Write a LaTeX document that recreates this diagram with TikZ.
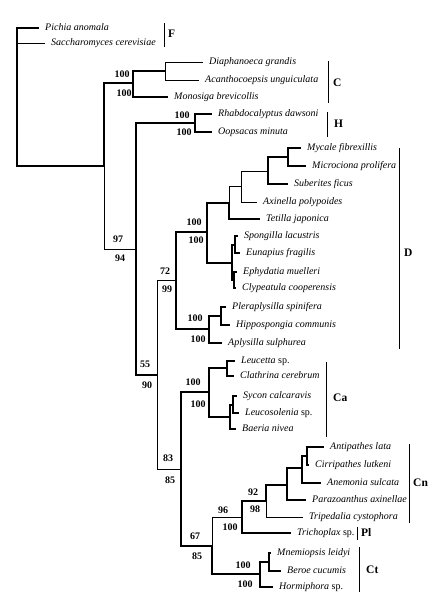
\documentclass[tikz,border=0pt]{standalone}
\usepackage{fontspec}
\setmainfont{Liberation Serif}
\begin{document}
\begin{tikzpicture}[x=1pt,y=-1pt,
  thk/.style={line width=1.8pt},
  thn/.style={line width=0.8pt},
  leaf/.style={anchor=west,inner xsep=6pt,inner ysep=0pt,font=\fontsize{10}{12}\selectfont\itshape,text height=6.5pt,text depth=2pt},
  bs/.style={font=\fontsize{10}{12}\selectfont\bfseries,inner sep=0pt},
  clade/.style={anchor=west,font=\fontsize{11.5}{13}\selectfont\bfseries,inner sep=0pt},
  bar/.style={line width=0.8pt}]
\useasboundingbox (0,0) rectangle (439,608);
% internal nodes
\coordinate (root) at (17,97);
\coordinate (n104) at (104,166);
\coordinate (n133) at (133,83);
\coordinate (n165) at (165,71);
\coordinate (n136) at (136,249);
\coordinate (n195) at (195,123);
\coordinate (n157) at (157,375);
\coordinate (n176) at (176,280);
\coordinate (n207) at (207,232);
\coordinate (n229) at (229,203);
\coordinate (n241) at (241,186);
\coordinate (n268) at (268,171);
\coordinate (n288) at (288,157);
\coordinate (n233) at (232,263);
\coordinate (n235a) at (235,245);
\coordinate (n235b) at (234,280);
\coordinate (n209d) at (209,329);
\coordinate (n221) at (221,316);
\coordinate (n181) at (181,469);
\coordinate (n209c) at (209,392);
\coordinate (n227) at (227,368);
\coordinate (n230) at (230,417);
\coordinate (n233c) at (233,405);
\coordinate (n212) at (212,546);
\coordinate (n242) at (242,517);
\coordinate (n266) at (266,501);
\coordinate (n287) at (287,485);
\coordinate (n302) at (302,468);
\coordinate (n307) at (307,456);
\coordinate (n260) at (260,574);
\coordinate (n269) at (269,562);
% leaves
\node[leaf] (pichia) at (39,28) {Pichia anomala};
\node[leaf] (sacch) at (45,43) {Saccharomyces cerevisiae};
\node[leaf] (diaph) at (203,62) {Diaphanoeca grandis};
\node[leaf] (acanth) at (199,80) {Acanthocoepsis unguiculata};
\node[leaf] (monos) at (168,97) {Monosiga brevicollis};
\node[leaf] (rhabdo) at (212,114) {Rhabdocalyptus dawsoni};
\node[leaf] (oops) at (212,132) {Oopsacas minuta};
\node[leaf] (mycale) at (301,148) {Mycale fibrexillis};
\node[leaf] (microc) at (306,166) {Microciona prolifera};
\node[leaf] (suber) at (288,184) {Suberites ficus};
\node[leaf] (axin) at (257,202) {Axinella polypoides};
\node[leaf] (tetil) at (260,219) {Tetilla japonica};
\node[leaf] (spong) at (238,236) {Spongilla lacustris};
\node[leaf] (eunap) at (240,253) {Eunapius fragilis};
\node[leaf] (ephyd) at (237,272) {Ephydatia muelleri};
\node[leaf] (clype) at (236,288) {Clypeatula cooperensis};
\node[leaf] (plera) at (226,307) {Pleraplysilla spinifera};
\node[leaf] (hippo) at (230,325) {Hippospongia communis};
\node[leaf] (aplys) at (222,343) {Aplysilla sulphurea};
\node[leaf] (leuce) at (235,361) {Leucetta \textup{sp.}};
\node[leaf] (clath) at (234,376) {Clathrina cerebrum};
\node[leaf] (sycon) at (237,396) {Sycon calcaravis};
\node[leaf] (leuco) at (239,413) {Leucosolenia \textup{sp.}};
\node[leaf] (baer) at (236,429) {Baeria nivea};
\node[leaf] (antip) at (324,447) {Antipathes lata};
\node[leaf] (cirri) at (309,465) {Cirripathes lutkeni};
\node[leaf] (anemo) at (321,483) {Anemonia sulcata};
\node[leaf] (paraz) at (306,500) {Parazoanthus axinellae};
\node[leaf] (triped) at (303,517) {Tripedalia cystophora};
\node[leaf] (tricho) at (291,533) {Trichoplax \textup{sp.}};
\node[leaf] (mnem) at (271,553) {Mnemiopsis leidyi};
\node[leaf] (beroe) at (281,571) {Beroe cucumis};
\node[leaf] (hormi) at (273,587) {Hormiphora \textup{sp.}};
% branches
\draw[thk] (root) |- (pichia.west);
\draw[thn] (root) |- (sacch.west);
\draw[thk] (root) |- (n104);
\draw[thk] (n104) |- (n133);
\draw[thn] (n104) |- (n136);
\draw[thk] (n133) |- (n165);
\draw[thn] (n165) |- (diaph.west);
\draw[thn] (n165) |- (acanth.west);
\draw[thk] (n133) |- (monos.west);
\draw[thk] (n136) |- (n195);
\draw[thk] (n195) |- (rhabdo.west);
\draw[thk] (n195) |- (oops.west);
\draw[thk] (n136) |- (n157);
\draw[thn] (n157) |- (n176);
\draw[thn] (n157) |- (n181);
\draw[thk] (n176) |- (n207);
\draw[thk] (n176) |- (n209d);
\draw[thk] (n207) |- (n229);
\draw[thk] (n207) |- (n233);
\draw[thn] (n229) |- (n241);
\draw[thk] (n229) |- (tetil.west);
\draw[thn] (n241) |- (n268);
\draw[thn] (n241) |- (axin.west);
\draw[thk] (n268) |- (n288);
\draw[thk] (n268) |- (suber.west);
\draw[thk] (n288) |- (mycale.west);
\draw[thk] (n288) |- (microc.west);
\draw[thk] (n233) |- (n235a);
\draw[thk] (n233) |- (n235b);
\draw[thk] (n235a) |- (spong.west);
\draw[thk] (n235a) |- (eunap.west);
\draw[thk] (n235b) |- (ephyd.west);
\draw[thk] (n235b) |- (clype.west);
\draw[thk] (n209d) |- (n221);
\draw[thk] (n209d) |- (aplys.west);
\draw[thk] (n221) |- (plera.west);
\draw[thk] (n221) |- (hippo.west);
\draw[thk] (n181) |- (n209c);
\draw[thk] (n181) |- (n212);
\draw[thk] (n209c) |- (n227);
\draw[thk] (n209c) |- (n230);
\draw[thk] (n227) |- (leuce.west);
\draw[thk] (n227) |- (clath.west);
\draw[thk] (n230) |- (n233c);
\draw[thk] (n230) |- (baer.west);
\draw[thk] (n233c) |- (sycon.west);
\draw[thk] (n233c) |- (leuco.west);
\draw[thn] (n212) |- (n242);
\draw[thk] (n212) |- (n260);
\draw[thk] (n242) |- (n266);
\draw[thk] (n242) |- (tricho.west);
\draw[thk] (n266) |- (n287);
\draw[thn] (n266) |- (triped.west);
\draw[thk] (n287) |- (n302);
\draw[thk] (n287) |- (paraz.west);
\draw[thk] (n302) |- (n307);
\draw[thk] (n302) |- (anemo.west);
\draw[thk] (n307) |- (antip.west);
\draw[thk] (n307) |- (cirri.west);
\draw[thk] (n260) |- (n269);
\draw[thk] (n260) |- (hormi.west);
\draw[thk] (n269) |- (mnem.west);
\draw[thk] (n269) |- (beroe.west);
% bootstrap values
\node[bs] (b1) at (122,74) {100};
\node[bs] (b2) at (124,93) {100};
\node[bs] (b3) at (182,115) {100};
\node[bs] (b4) at (184,132) {100};
\node[bs] (b5) at (118,239) {97};
\node[bs] (b6) at (120,258) {94};
\node[bs] (b7) at (145,364) {55};
\node[bs] (b8) at (147,385) {90};
\node[bs] (b9) at (165,271) {72};
\node[bs] (b10) at (167,289) {99};
\node[bs] (b11) at (168,458) {83};
\node[bs] (b12) at (170,480) {85};
\node[bs] (b13) at (194,222) {100};
\node[bs] (b14) at (196,240) {100};
\node[bs] (b15) at (195,318) {100};
\node[bs] (b16) at (198,339) {100};
\node[bs] (b17) at (193,382) {100};
\node[bs] (b18) at (198,404) {100};
\node[bs] (b19) at (195,536) {67};
\node[bs] (b20) at (197,556) {85};
\node[bs] (b21) at (223,510) {96};
\node[bs] (b22) at (230,527) {100};
\node[bs] (b23) at (253,492) {92};
\node[bs] (b24) at (255,509) {98};
\node[bs] (b25) at (243,565) {100};
\node[bs] (b26) at (245,584) {100};
% clade bars and labels
\draw[bar] (164,23) -- (164,47);
\node[clade] (cF) at (168,34) {F};
\draw[bar] (328,61) -- (328,103);
\node[clade] (cC) at (333,83) {C};
\draw[bar] (327,112) -- (327,137);
\node[clade] (cH) at (334,124) {H};
\draw[bar] (399,148) -- (399,349);
\node[clade] (cD) at (404,253) {D};
\draw[bar] (326,362) -- (326,437);
\node[clade] (cCa) at (333,398) {Ca};
\draw[bar] (409,444) -- (409,523);
\node[clade] (cCn) at (413,483) {Cn};
\draw[bar] (357,527) -- (357,540);
\node[clade] (cPl) at (361,533) {Pl};
\draw[bar] (359,547) -- (359,592);
\node[clade] (cCt) at (366,570) {Ct};
\end{tikzpicture}
\end{document}
